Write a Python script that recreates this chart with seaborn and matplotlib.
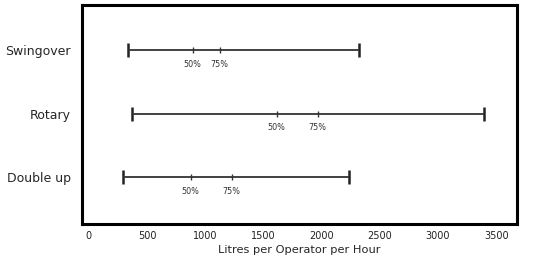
import matplotlib
matplotlib.use('Agg')
import matplotlib.pyplot as plt
import pandas as pd
import seaborn as sns

categories = ['Swingover', 'Rotary', 'Double up']
low = [335, 370, 292]
p50 = [893, 1615, 876]
p75 = [1125, 1967, 1228]
high = [2320, 3393, 2234]
xticks = [0, 500, 1000, 1500, 2000, 2500, 3000, 3500]

df = pd.DataFrame({'method': categories, 'low': low, 'p50': p50,
                   'p75': p75, 'high': high})

sns.set_style('white')
plt.rcParams['font.family'] = ['DejaVu Sans']

fig = plt.figure(figsize=(5.45, 2.68), dpi=100)
ax = fig.add_axes([0.150, 0.164, 0.799, 0.817])

# range lines
ax.hlines(df['method'], df['low'], df['high'], color='#333333', linewidth=1.3)

# end caps
caps = pd.concat([df[['method', 'low']].rename(columns={'low': 'value'}),
                  df[['method', 'high']].rename(columns={'high': 'value'})])
sns.scatterplot(data=caps, x='value', y='method', marker='|', s=90,
                color='#222222', linewidth=1.8, ax=ax, legend=False)

# percentile marks
pct = pd.concat([df[['method', 'p50']].rename(columns={'p50': 'value'}).assign(lab='50%'),
                 df[['method', 'p75']].rename(columns={'p75': 'value'}).assign(lab='75%')])
sns.scatterplot(data=pct, x='value', y='method', marker='|', s=25,
                color='#333333', linewidth=1.0, ax=ax, legend=False)
for _, r in pct.iterrows():
    ax.annotate(r['lab'], (r['value'], r['method']), xytext=(0, -7),
                textcoords='offset points', ha='center', va='top',
                fontsize=5.8, color='#333333')

ax.set_xlim(-60, 3680)
ax.set_ylim(2.74, -0.71)
ax.set_xticks(xticks)
ax.set_xticklabels([str(t) for t in xticks], fontsize=7, color='#222222')
ax.tick_params(axis='x', direction='out', length=3, width=1, pad=2)
ax.tick_params(axis='y', length=0, labelsize=9, pad=8)
ax.set_xlabel('Litres per Operator per Hour', fontsize=8.2, labelpad=3)
ax.set_ylabel('')
for s in ax.spines.values():
    s.set_linewidth(2.2)
    s.set_color('black')

fig.savefig('out.png', dpi=100)
